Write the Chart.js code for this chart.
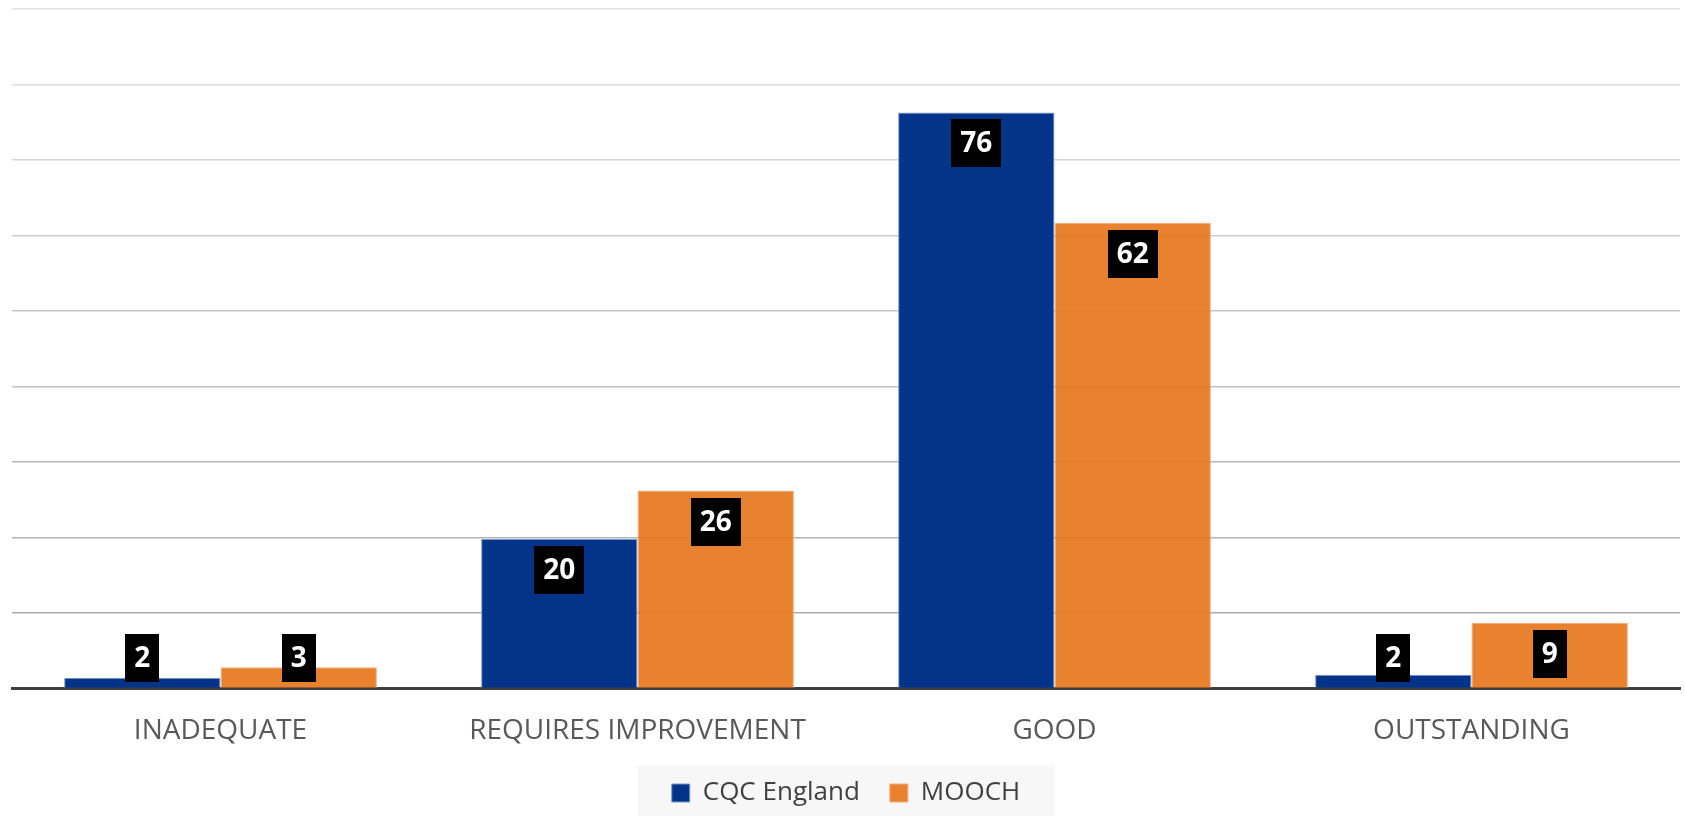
<!DOCTYPE html>
<html>
<head>
<meta charset="utf-8">
<script src="https://cdn.jsdelivr.net/npm/chart.js@4.4.1/dist/chart.umd.min.js"></script>
<style>
    html, body { margin: 0; padding: 0; background: #ffffff; }
    #wrap { width: 1685px; height: 816px; }
</style>
</head>
<body>
<div id="wrap"><canvas id="myChart" width="1685" height="816"></canvas></div>
<script>
// Categories and values (percent)
const categories = ['INADEQUATE', 'REQUIRES IMPROVEMENT', 'GOOD', 'OUTSTANDING'];
const cqcValues = [1.4, 19.8, 76.3, 1.8];
const moochValues = [2.8, 26.2, 61.7, 8.7];
// Text shown in the black label boxes
const cqcLabels = ['2', '20', '76', '2'];
const moochLabels = ['3', '26', '62', '9'];
const yTicks = [0, 10, 20, 30, 40, 50, 60, 70, 80, 90];

// Draws the black value boxes near the top of each bar
const boxLabels = {
    id: 'boxLabels',
    afterDatasetsDraw(chart) {
        const ctx = chart.ctx;
        const texts = [cqcLabels, moochLabels];
        ctx.save();
        ctx.font = 'bold 28px "Open Sans"';
        ctx.textAlign = 'center';
        ctx.textBaseline = 'middle';
        chart.data.datasets.forEach((ds, i) => {
            const meta = chart.getDatasetMeta(i);
            meta.data.forEach((bar, j) => {
                const txt = texts[i][j];
                const w = ctx.measureText(txt).width + 18;
                const h = 48;
                const top = Math.min(bar.y + 7, bar.base - 54);
                ctx.fillStyle = '#000000';
                ctx.fillRect(Math.round(bar.x - w / 2), Math.round(top), Math.round(w), h);
                ctx.fillStyle = '#ffffff';
                ctx.fillText(txt, bar.x, top + h / 2 + 1);
            });
        });
        ctx.restore();
    }
};

// Light grey box behind the legend
const legendBack = {
    id: 'legendBack',
    beforeDraw(chart) {
        const lg = chart.legend;
        if (!lg || !lg.legendHitBoxes.length) return;
        const boxes = lg.legendHitBoxes;
        const left = boxes[0].left - 34;
        const last = boxes[boxes.length - 1];
        const right = last.left + last.width + 34;
        const ctx = chart.ctx;
        ctx.save();
        ctx.fillStyle = '#f7f7f7';
        ctx.fillRect(left, 765, right - left, 51);
        ctx.restore();
    }
};

const ctx = document.getElementById('myChart').getContext('2d');
const myChart = new Chart(ctx, {
    type: 'bar',
    data: {
        labels: categories,
        datasets: [{
            label: 'CQC England',
            data: cqcValues,
            backgroundColor: '#03348a',
            borderColor: '#7d97c9',
            borderWidth: 1
        }, {
            label: 'MOOCH',
            data: moochValues,
            backgroundColor: 'rgba(230,119,29,0.92)',
            borderColor: '#f2ad78',
            borderWidth: 1
        }]
    },
    options: {
        responsive: false,
        animation: false,
        layout: {
            padding: { left: 12, right: 5, top: 9, bottom: 0 }
        },
        datasets: {
            bar: {
                categoryPercentage: 0.75,
                barPercentage: 1.0
            }
        },
        scales: {
            x: {
                grid: { display: false, drawTicks: false },
                border: { display: true, color: '#404040', width: 3 },
                ticks: {
                    color: '#595959',
                    font: { family: '"Open Sans"', size: 28 },
                    padding: 26,
                    maxRotation: 0
                },
                // pull the axis closer to the legend
                afterFit(axis) {
                    axis.height -= 24;
                }
            },
            y: {
                min: 0,
                max: 90,
                afterBuildTicks(axis) {
                    axis.ticks = yTicks.map(v => ({ value: v }));
                },
                ticks: { display: false },
                border: { display: false },
                grid: {
                    drawTicks: false,
                    lineWidth: 1.5,
                    // lines get a bit darker towards the baseline
                    color(c) {
                        const t = c.tick ? c.tick.value / 90 : 0;
                        const g = Math.round(166 + (226 - 166) * t);
                        return 'rgb(' + g + ',' + g + ',' + g + ')';
                    }
                }
            }
        },
        plugins: {
            tooltip: { enabled: false },
            legend: {
                position: 'bottom',
                labels: {
                    color: '#404040',
                    font: { family: '"Open Sans"', size: 26 },
                    boxWidth: 18,
                    boxHeight: 18,
                    padding: 30
                }
            }
        }
    },
    plugins: [legendBack, boxLabels]
});
</script>
</body>
</html>
